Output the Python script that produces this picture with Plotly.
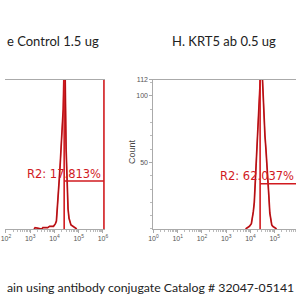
import plotly.graph_objects as go

# ---- data (log10 of fluorescence intensity, event counts) ----
left_log = [3.16, 3.2, 3.48, 3.52, 3.72, 3.8, 3.88, 3.96, 4.0, 4.04, 4.08, 4.12, 4.16, 4.2, 4.24,
            4.28, 4.32, 4.36, 4.4, 4.44, 4.48, 4.52, 4.56, 4.6, 4.64, 4.68, 4.76, 4.84, 4.92]
left_cnt = [0, 1, 0, 1, 1, 2, 2, 2, 3, 4, 6, 15, 25, 38, 50,
            65, 78, 90, 125, 115, 60, 35, 15, 8, 5, 3, 2, 1, 0]

right_log = [3.8, 3.88, 3.96, 4.04, 4.08, 4.12, 4.16, 4.2, 4.24, 4.28, 4.32, 4.36, 4.4, 4.44,
             4.48, 4.52, 4.56, 4.6, 4.64, 4.68, 4.72, 4.76, 4.8, 4.84, 4.88, 4.92, 5.0, 5.08]
right_cnt = [0, 1, 2, 4, 8, 13, 20, 35, 50, 65, 85, 105, 120, 125,
             120, 100, 85, 70, 60, 50, 38, 25, 12, 6, 3, 2, 1, 0]

gate_left = [4.4, 6.04]
gate_right = [4.4, 6.04]
gate_level_left = 36
gate_level_right = 34
label_left = "R2: 17.813%"
label_right = "R2: 62.037%"

title_left = "e Control 1.5 ug"
title_right = "H. KRT5 ab 0.5 ug"
caption = "ain using antibody conjugate Catalog # 32047-05141"

left_decades = [2, 3, 4, 5, 6]
right_decades = [0, 1, 2, 3, 4, 5, 6]
y_ticks = [50, 100, 112]

RED = "#d11a1f"
DARK = "#9b0d10"
W, H = 300, 300

def px_x(p):
    return p / W

def px_y(p):
    return 1 - p / H

fig = go.Figure()

def add_hist(logs, cnts, xa, ya):
    xs = [10 ** v for v in logs]
    fig.add_trace(go.Scatter(x=xs, y=cnts, mode="lines", line=dict(color=RED, width=1.7),
                             xaxis=xa, yaxis=ya, showlegend=False, hoverinfo="skip"))
    fig.add_trace(go.Scatter(x=xs, y=cnts, mode="lines", line=dict(color=DARK, width=0.7),
                             xaxis=xa, yaxis=ya, showlegend=False, hoverinfo="skip"))

def add_gate(g, level, xa, ya):
    x0, x1 = 10 ** g[0], 10 ** g[1]
    fig.add_trace(go.Scatter(x=[x0, x0, None, x1, x1, None, x0, x1],
                             y=[0, 112, None, 0, 112, None, level, level],
                             mode="lines", line=dict(color=RED, width=1.6),
                             xaxis=xa, yaxis=ya, showlegend=False, hoverinfo="skip"))

add_hist(left_log, left_cnt, "x", "y")
add_hist(right_log, right_cnt, "x2", "y2")
add_gate(gate_left, gate_level_left, "x", "y")
add_gate(gate_right, gate_level_right, "x2", "y2")

ydom = [px_y(228), px_y(77)]
tickfont = dict(family="Arial", size=7, color="#555")

def minor_vals(decades):
    lo, hi = decades[0] - 1, decades[-1] + 1
    return [m * 10 ** d for d in range(lo, hi) for m in range(2, 10)]

common_x = dict(type="log", showgrid=False, zeroline=False, showline=True, linecolor="#aaa",
                linewidth=1, mirror=True, ticks="outside", ticklen=3, tickcolor="#aaa",
                tickfont=tickfont)

fig.update_layout(
    width=W, height=H, margin=dict(l=0, r=0, t=0, b=0),
    paper_bgcolor="white", plot_bgcolor="white",
    xaxis=dict(domain=[0, px_x(103)], range=[1.96, 6.08],
               tickvals=[10 ** d for d in left_decades],
               ticktext=["10<sup>%d</sup>" % d for d in left_decades],
               minor=dict(tickvals=minor_vals(left_decades), ticks="outside", ticklen=2,
                          tickcolor="#bbb"),
               anchor="y", **common_x),
    yaxis=dict(domain=ydom, range=[0, 112], showline=False, showgrid=False, zeroline=False,
               showticklabels=False, ticks="", anchor="x"),
    xaxis2=dict(domain=[px_x(153), 1], range=[0, 5.88],
                tickvals=[10 ** d for d in right_decades],
                ticktext=["10<sup>%d</sup>" % d for d in right_decades],
                minor=dict(tickvals=minor_vals(right_decades), ticks="outside", ticklen=2,
                           tickcolor="#bbb"),
                anchor="y2", **common_x),
    yaxis2=dict(domain=ydom, range=[0, 112], showline=True, linecolor="#aaa", linewidth=1,
                showgrid=False, zeroline=False, tickvals=y_ticks, ticks="outside", ticklen=3,
                tickcolor="#aaa", tickfont=tickfont,
                minor=dict(dtick=10, ticks="outside", ticklen=2, tickcolor="#bbb"),
                anchor="x2"),
)

ann = []
ann.append(dict(text=label_left, x=4.4, y=41.5, xref="x", yref="y", showarrow=False,
                xanchor="center", yanchor="middle",
                font=dict(family="DejaVu Sans", size=11.5, color=RED)))
ann.append(dict(text=label_right, x=4.28, y=40, xref="x2", yref="y2", showarrow=False,
                xanchor="center", yanchor="middle",
                font=dict(family="DejaVu Sans", size=11.5, color=RED)))
ann.append(dict(text=title_left, x=px_x(0), y=px_y(37), xref="paper", yref="paper",
                showarrow=False, xanchor="left", yanchor="middle",
                font=dict(family="Lato", size=13, color="#222")))
ann.append(dict(text=title_right, x=px_x(170), y=px_y(37), xref="paper", yref="paper",
                showarrow=False, xanchor="left", yanchor="middle",
                font=dict(family="Lato", size=13, color="#222")))
ann.append(dict(text=caption, x=px_x(0), y=px_y(287), xref="paper", yref="paper",
                showarrow=False, xanchor="left", yanchor="middle",
                font=dict(family="Lato", size=12.3, color="#222")))
ann.append(dict(text="Count", x=px_x(131), y=px_y(150), xref="paper", yref="paper",
                showarrow=False, textangle=-90, xanchor="center", yanchor="middle",
                font=dict(family="Arial", size=9, color="#444")))
fig.update_layout(annotations=ann)

fig.write_html("out.html")
